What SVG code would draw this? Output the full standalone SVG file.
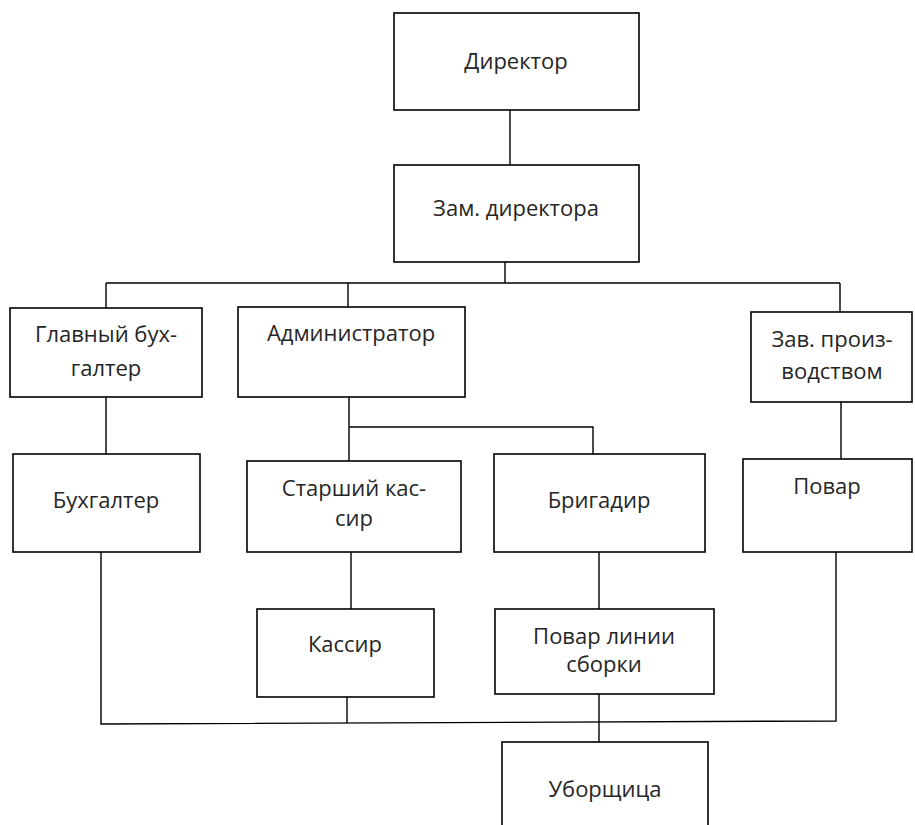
<svg xmlns="http://www.w3.org/2000/svg" width="915" height="825" viewBox="0 0 915 825">
<style>
.box{fill:#fff;stroke:#000;stroke-width:1.6}
.ln{fill:none;stroke:#000;stroke-width:1.4}
text{font-family:"Open Sans","Liberation Sans",sans-serif;font-size:22px;fill:#262626;text-anchor:middle;dominant-baseline:central}
</style>
<rect width="915" height="825" fill="#fff"/>
<g id="connectors">
<path class="ln" d="M510 110V165"/>
<path class="ln" d="M505 262V283M106 283H840M106 283V308M348 283V307M840 283V312"/>
<path class="ln" d="M106 397V454"/>
<path class="ln" d="M349 397V461M349 427H593V454"/>
<path class="ln" d="M841 402V459"/>
<path class="ln" d="M351 552V609"/>
<path class="ln" d="M599 552V609"/>
<path class="ln" d="M599 694V742"/>
<path class="ln" d="M101 552V724L836 721V552"/>
<path class="ln" d="M347 697V723"/>
</g>
<g id="director"><rect class="box" x="394" y="13" width="245" height="97"/><text x="516" y="60">Директор</text></g>
<g id="zam"><rect class="box" x="394" y="165" width="245" height="97"/><text x="516" y="207">Зам. директора</text></g>
<g id="glavbuh"><rect class="box" x="10" y="308" width="192" height="89"/><text x="106" y="333">Главный бух-</text><text x="106" y="367">галтер</text></g>
<g id="admin"><rect class="box" x="238" y="307" width="227" height="90"/><text x="351" y="332">Администратор</text></g>
<g id="zavprod"><rect class="box" x="751" y="312" width="161" height="90"/><text x="832" y="338">Зав. произ-</text><text x="832" y="370">водством</text></g>
<g id="buh"><rect class="box" x="13" y="454" width="187" height="98"/><text x="106" y="499">Бухгалтер</text></g>
<g id="stkassir"><rect class="box" x="247" y="461" width="214" height="91"/><text x="354" y="487">Старший кас-</text><text x="354" y="517">сир</text></g>
<g id="brigadir"><rect class="box" x="494" y="454" width="211" height="98"/><text x="599" y="499">Бригадир</text></g>
<g id="povar"><rect class="box" x="743" y="459" width="169" height="93"/><text x="827" y="485">Повар</text></g>
<g id="kassir"><rect class="box" x="257" y="609" width="177" height="88"/><text x="345" y="643">Кассир</text></g>
<g id="povarlinii"><rect class="box" x="495" y="609" width="219" height="85"/><text x="604" y="635">Повар линии</text><text x="604" y="663">сборки</text></g>
<g id="uborshica"><rect class="box" x="502" y="742" width="206" height="95"/><text x="605" y="788">Уборщица</text></g>
</svg>
